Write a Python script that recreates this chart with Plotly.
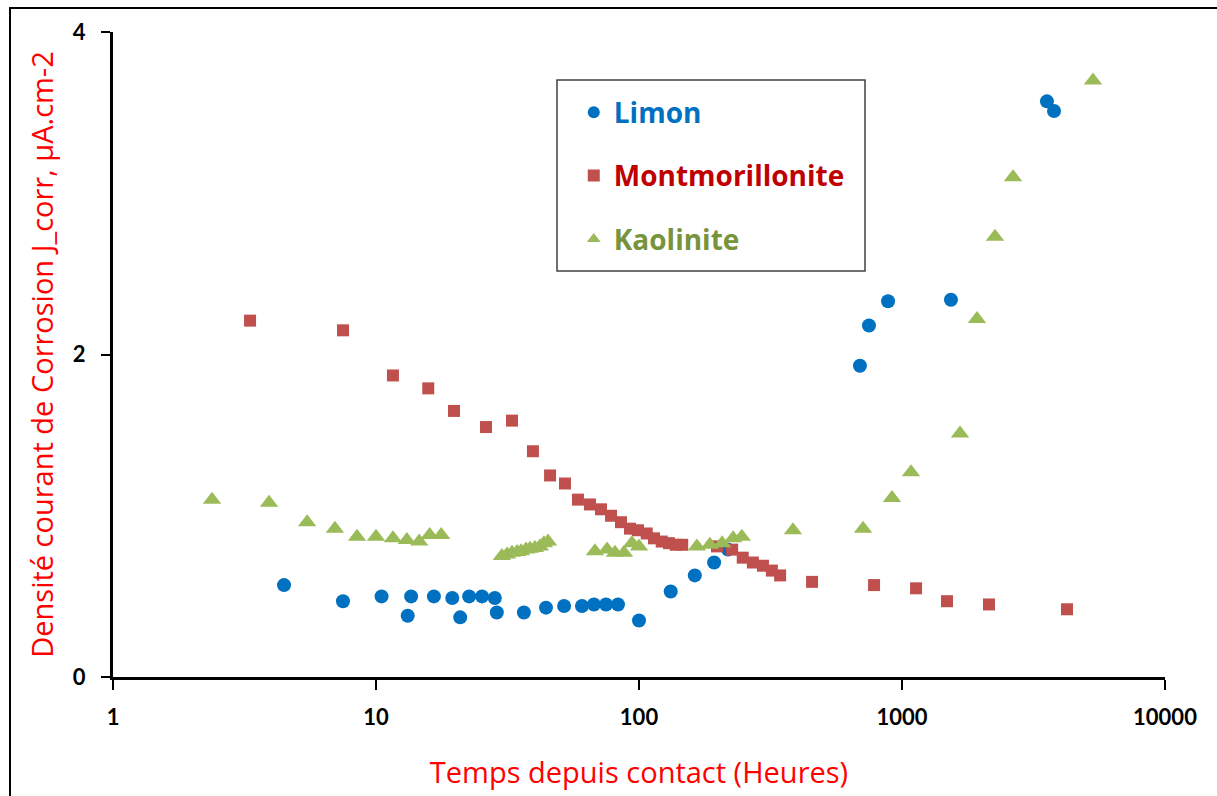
import plotly.graph_objects as go

# ---- data ----
limon_t = [4.47, 7.49, 10.5, 13.2, 13.6, 16.6, 19.5, 20.9, 22.6, 25.3, 28.3, 28.8,
           36.5, 44.3, 51.9, 60.7, 67.4, 74.9, 83.2, 100, 132, 163, 193, 218,
           692, 749, 885, 1535, 3557, 3785]
limon_j = [0.57, 0.47, 0.50, 0.38, 0.50, 0.50, 0.49, 0.37, 0.50, 0.50, 0.49, 0.40,
           0.40, 0.43, 0.44, 0.44, 0.45, 0.45, 0.45, 0.35, 0.53, 0.63, 0.71, 0.79,
           1.93, 2.18, 2.33, 2.34, 3.57, 3.51]

mont_t = [3.32, 7.49, 11.6, 15.8, 19.8, 26.2, 32.9, 39.5, 45.9, 52.3, 58.6, 65.1,
          71.7, 78.3, 85.4, 92.4, 99.1, 107, 114, 122, 130, 138, 146,
          198, 226, 248, 271, 296, 320, 344, 455, 783, 1131, 1483, 2142, 4240]
mont_j = [2.21, 2.15, 1.87, 1.79, 1.65, 1.55, 1.59, 1.40, 1.25, 1.20, 1.10, 1.07,
          1.04, 1.00, 0.96, 0.92, 0.91, 0.89, 0.86, 0.84, 0.83, 0.82, 0.82,
          0.81, 0.79, 0.74, 0.71, 0.69, 0.66, 0.63, 0.59, 0.57, 0.55, 0.47, 0.45, 0.42]

kaol_t = [2.38, 3.92, 5.47, 6.98, 8.47, 10.0, 11.6, 13.1, 14.6, 16.0, 17.7,
          30.1, 31.5, 32.9, 34.4, 35.6, 37.2, 38.5, 40.2, 42.0, 43.5, 45.1,
          68.0, 75.6, 81.0, 87.7, 94.0, 100, 166, 186, 207, 228, 246, 385,
          711, 916, 1082, 1662, 1928, 2257, 2643, 5325]
kaol_j = [1.10, 1.08, 0.96, 0.92, 0.87, 0.87, 0.86, 0.85, 0.84, 0.88, 0.88,
          0.75, 0.76, 0.77, 0.775, 0.78, 0.79, 0.795, 0.80, 0.81, 0.83, 0.84,
          0.78, 0.79, 0.77, 0.77, 0.83, 0.81, 0.81, 0.82, 0.83, 0.86, 0.87, 0.91,
          0.92, 1.11, 1.27, 1.51, 2.22, 2.73, 3.10, 3.70]

x_ticks = [1, 10, 100, 1000, 10000]
x_tick_labels = ["1", "10", "100", "1000", "10000"]
y_ticks = [0, 2, 4]
y_tick_labels = ["0", "2", "4"]

TICKFONT = "Lato"
TEXTFONT = "Open Sans"

fig = go.Figure()
fig.add_trace(go.Scatter(
    x=limon_t, y=limon_j, mode="markers", legendgroup="a",
    name="<span style='color:#0070C0'><b>Limon</b></span>",
    marker=dict(symbol="circle", size=14, color="#0070C0")))
fig.add_trace(go.Scatter(
    x=mont_t, y=mont_j, mode="markers", legendgroup="b",
    name="<span style='color:#C00000'><b>Montmorillonite</b></span>",
    marker=dict(symbol="square", size=12, color="#C0504D")))
fig.add_trace(go.Scatter(
    x=kaol_t, y=kaol_j, mode="markers", legendgroup="c",
    name="<span style='color:#77933C'><b>Kaolinite</b></span>",
    marker=dict(symbol="triangle-up", size=16, color="#9BBB59")))

fig.update_layout(
    width=1217, height=796,
    margin=dict(l=113, r=52, t=32, b=119),
    paper_bgcolor="white", plot_bgcolor="white",
    font=dict(family=TEXTFONT, color="black"),
    showlegend=True,
    legend=dict(
        x=0.438, y=0.914, xanchor="left", yanchor="top",
        bgcolor="rgba(0,0,0,0)", borderwidth=0,
        font=dict(family=TEXTFONT, size=28),
        tracegroupgap=24, itemsizing="constant",
    ),
    xaxis=dict(
        type="log", range=[0, 4],
        tickvals=x_ticks, ticktext=x_tick_labels,
        showgrid=False, zeroline=False,
        showline=True, linecolor="black", linewidth=3,
        ticks="outside", ticklen=10, tickwidth=2, tickcolor="black",
        tickfont=dict(family=TICKFONT, size=22, color="black", weight="bold"),
        ticklabelstandoff=9,
        title=dict(text="Temps depuis contact (Heures)", standoff=34,
                   font=dict(family=TEXTFONT, size=29, color="#FF0000")),
    ),
    yaxis=dict(
        range=[0, 4],
        tickvals=y_ticks, ticktext=y_tick_labels,
        showgrid=False, zeroline=False,
        showline=True, linecolor="black", linewidth=3,
        ticks="outside", ticklen=9, tickwidth=2, tickcolor="black",
        tickfont=dict(family=TICKFONT, size=22, color="black", weight="bold"),
        ticklabelstandoff=11,
        title=dict(text="Densité courant de Corrosion J_corr, µA.cm-2", standoff=11,
                   font=dict(family=TEXTFONT, size=29, color="#FF0000")),
    ),
    shapes=[
        # legend box
        dict(type="rect", xref="paper", yref="paper",
             x0=(557 - 113) / 1052, x1=(865 - 113) / 1052,
             y0=(677 - 271) / 645, y1=(677 - 80) / 645,
             line=dict(color="#404040", width=1.5), fillcolor="rgba(0,0,0,0)"),
        # outer chart frame
        dict(type="rect", xref="paper", yref="paper",
             x0=(10 - 113) / 1052, x1=(1240 - 113) / 1052,
             y0=(677 - 820) / 645, y1=(677 - 8) / 645,
             line=dict(color="black", width=2), fillcolor="rgba(0,0,0,0)"),
    ],
)

fig.write_html(
    "out.html",
    config={"displayModeBar": False},
    post_script="document.body.style.margin='0px';document.body.style.overflow='hidden';",
)
